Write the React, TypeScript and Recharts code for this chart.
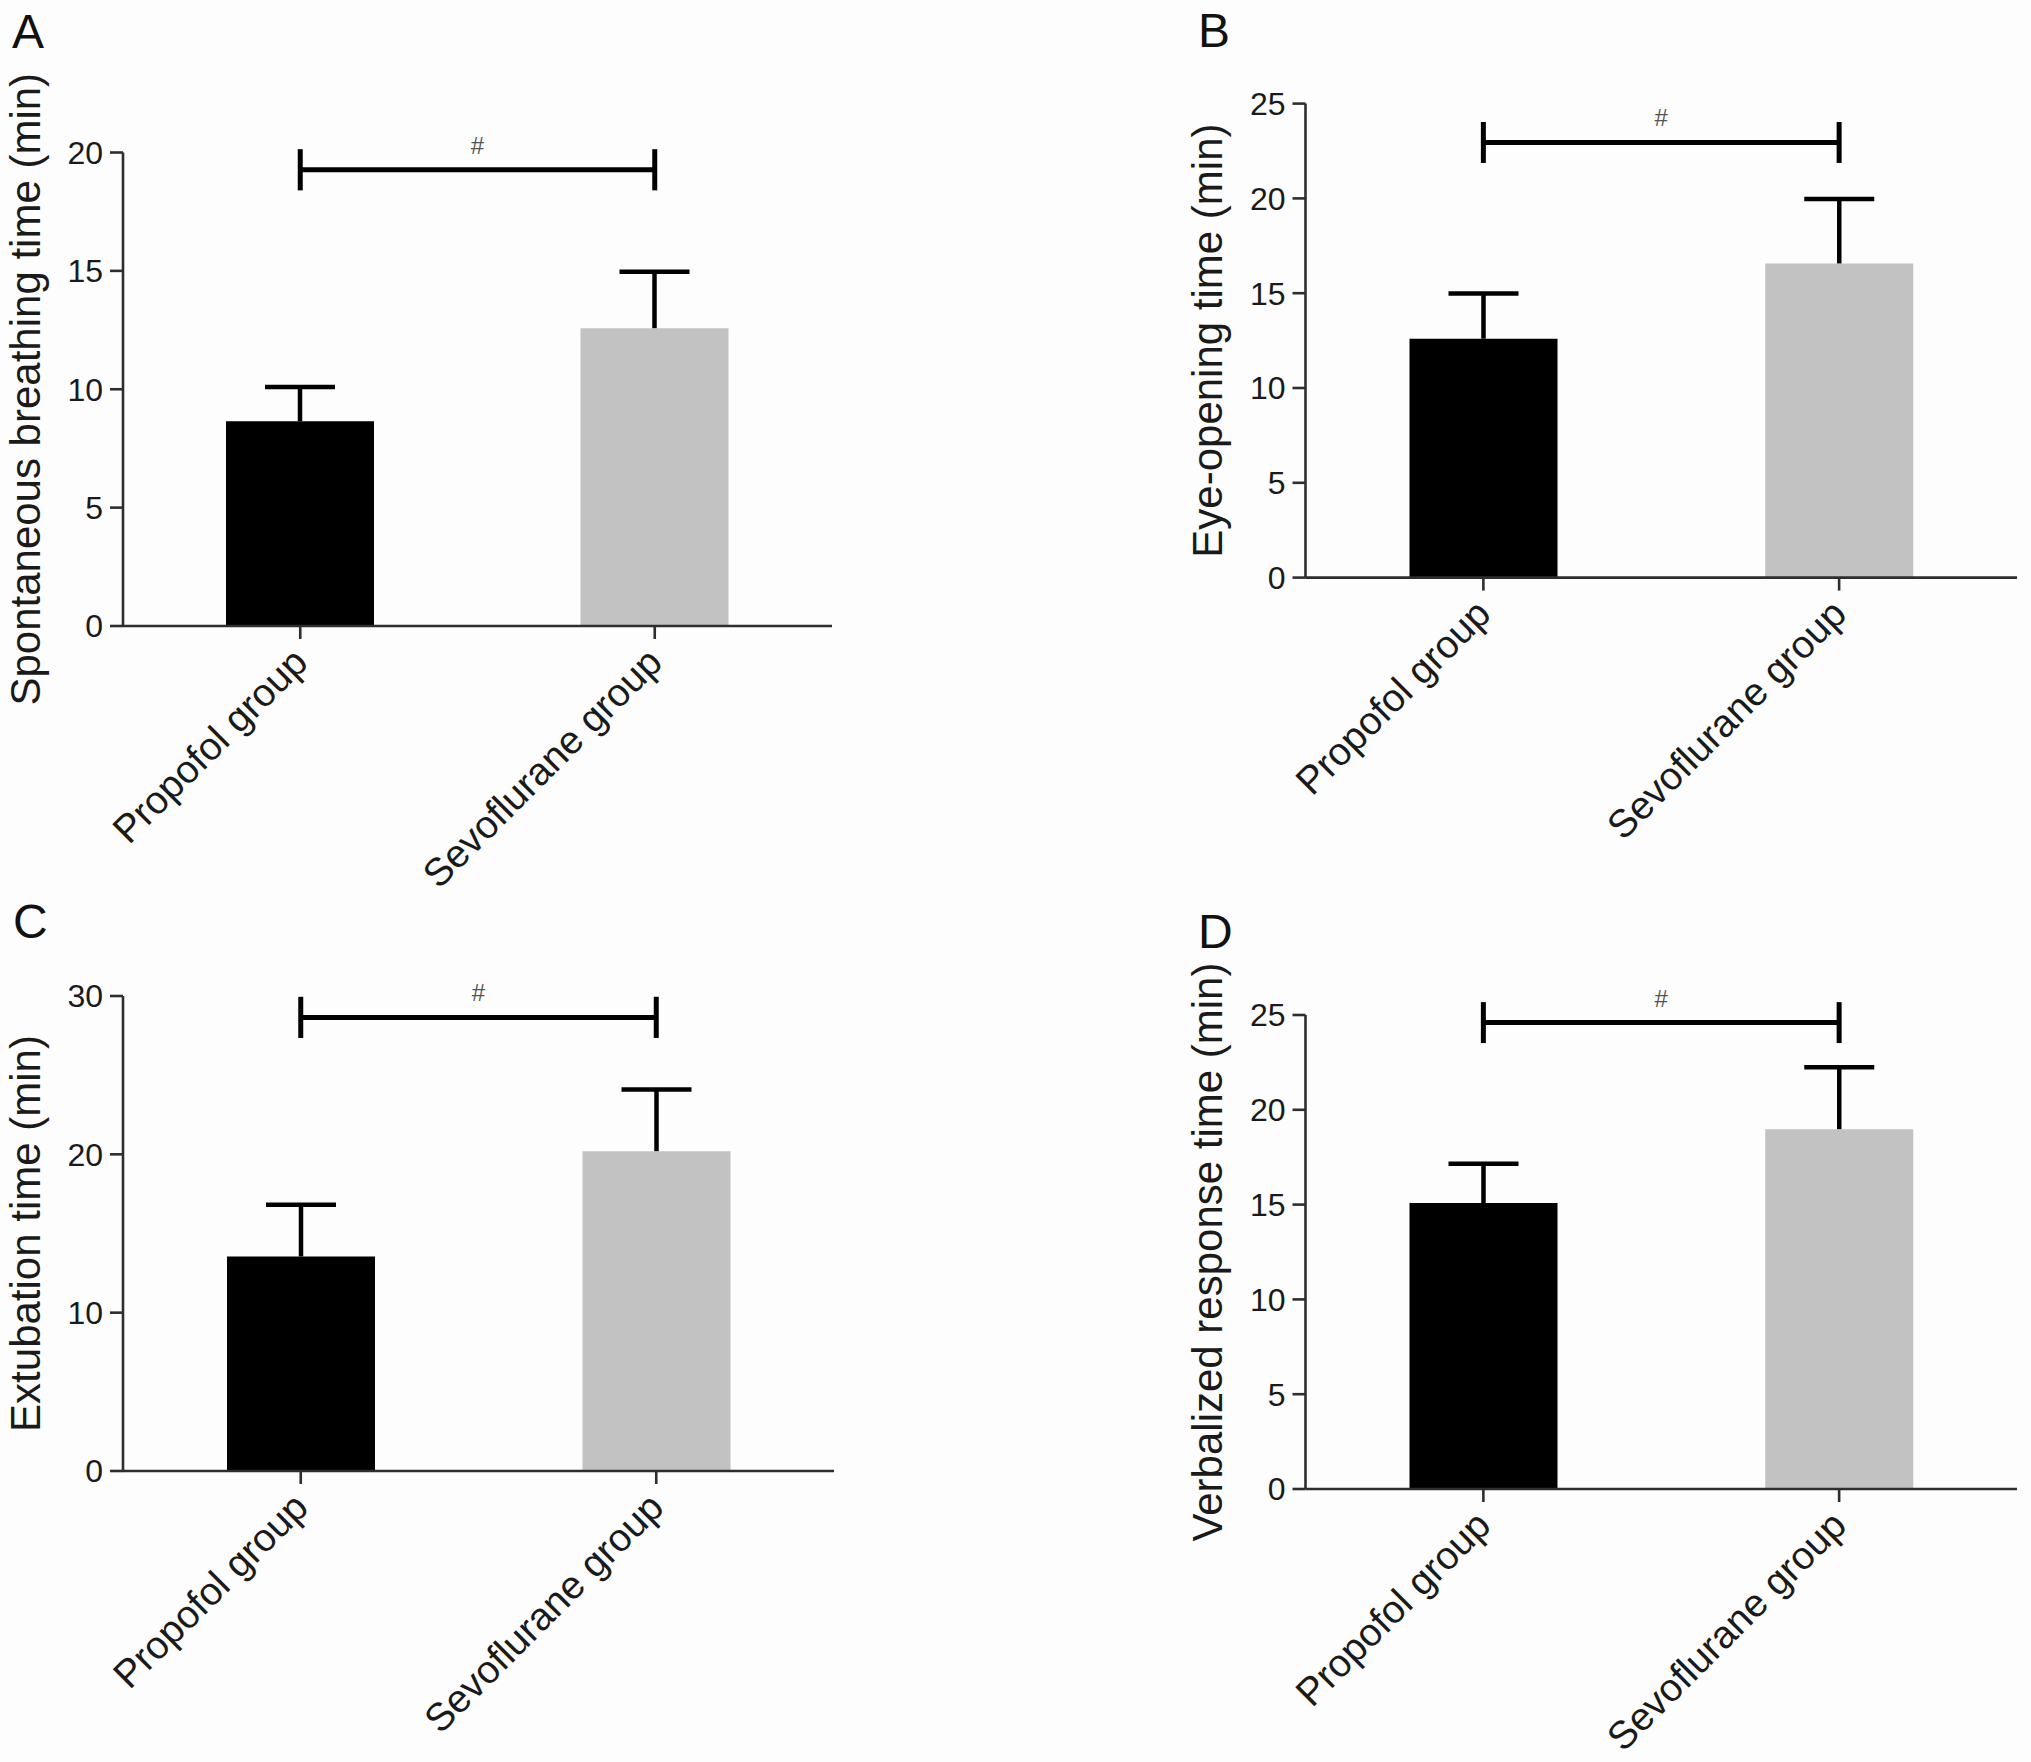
import React from 'react';
import { BarChart, Bar, XAxis, YAxis, Cell, ReferenceLine } from 'recharts';

const FONT = "'Liberation Sans', Arial, Helvetica, sans-serif";

// Categories
const groups = ['Propofol group', 'Sevoflurane group'];

// Panel A – Spontaneous breathing time
const breathingMean = [8.65, 12.58];
const breathingSD = [1.45, 2.38];
const breathingTicks = [0, 5, 10, 15, 20];
const breathingBracket = 19.27;
const breathingCap = 0.87;

// Panel B – Eye-opening time
const eyeMean = [12.6, 16.57];
const eyeSD = [2.38, 3.4];
const eyeTicks = [0, 5, 10, 15, 20, 25];
const eyeBracket = 22.95;
const eyeCap = 1.08;

// Panel C – Extubation time
const extubationMean = [13.55, 20.2];
const extubationSD = [3.27, 3.9];
const extubationTicks = [0, 10, 20, 30];
const extubationBracket = 28.65;
const extubationCap = 1.3;

// Panel D – Verbalized response time
const verbalMean = [15.08, 18.98];
const verbalSD = [2.07, 3.27];
const verbalTicks = [0, 5, 10, 15, 20, 25];
const verbalBracket = 24.6;
const verbalCap = 1.08;

const BAR_COLORS = ['#000000', '#c2c2c2'];
const AXIS_COLOR = '#2e2e2e';
const TEXT_COLOR = '#1a1a1a';

const ErrShape = (props: any) => {
  const { x, y, width, height } = props;
  if (x == null || y == null) return null;
  const cx = x + width / 2;
  return (
    <g>
      <line x1={cx} x2={cx} y1={y + height} y2={y} stroke="#000" strokeWidth={4.5} />
      <line x1={cx - 35} x2={cx + 35} y1={y} y2={y} stroke="#000" strokeWidth={4.5} />
    </g>
  );
};

type PanelProps = {
  means: number[];
  sds: number[];
  ticks: number[];
  yLabel: string;
  bracket: number;
  cap: number;
  left: number;
  top: number;
  W: number;
  H: number;
  plotLeft: number;
  plotTop: number;
  plotRight: number;
  plotBottom: number;
};

const Panel = (p: PanelProps) => {
  const data = groups.map((g, i) => ({ group: g, mean: p.means[i], sd: p.sds[i] }));
  const yW = p.plotLeft - p.left;
  const mTop = p.plotTop - p.top;
  const mRight = p.left + p.W - p.plotRight;
  const xH = p.top + p.H - p.plotBottom;
  const yMax = p.ticks[p.ticks.length - 1];
  return (
    <div style={{ position: 'absolute', left: p.left, top: p.top, width: p.W, height: p.H }}>
      <BarChart
        width={p.W}
        height={p.H}
        data={data}
        margin={{ top: mTop, right: mRight, bottom: 0, left: 0 }}
        barCategoryGap={0}
      >
        <XAxis
          dataKey="group"
          height={xH}
          interval={0}
          tickSize={13}
          tickMargin={14}
          axisLine={{ stroke: AXIS_COLOR, strokeWidth: 2.6 }}
          tickLine={{ stroke: AXIS_COLOR, strokeWidth: 2.6 }}
          tick={{ angle: -45, textAnchor: 'end', dx: -10, dy: -8, fontSize: 39, fill: TEXT_COLOR, fontFamily: FONT } as any}
        />
        <YAxis
          width={yW}
          domain={[0, yMax]}
          ticks={p.ticks}
          interval={0}
          tickSize={13}
          tickMargin={7}
          axisLine={{ stroke: AXIS_COLOR, strokeWidth: 2.6 }}
          tickLine={{ stroke: AXIS_COLOR, strokeWidth: 2.6 }}
          tick={{ fontSize: 32, fill: TEXT_COLOR, fontFamily: FONT }}
          label={{
            value: p.yLabel,
            angle: -90,
            position: 'insideLeft',
            offset: yW - 98,
            textAnchor: 'middle',
            fontSize: 42,
            fill: TEXT_COLOR,
            fontFamily: FONT,
            style: { textAnchor: 'middle', fontSize: 42, fill: TEXT_COLOR, fontFamily: FONT },
          } as any}
        />
        <Bar dataKey="mean" stackId="s" barSize={148} isAnimationActive={false}>
          {data.map((d, i) => (
            <Cell key={d.group} fill={BAR_COLORS[i]} />
          ))}
        </Bar>
        <Bar dataKey="sd" stackId="s" barSize={148} isAnimationActive={false} fill="none" shape={ErrShape} />
        <ReferenceLine
          segment={[
            { x: groups[0], y: p.bracket },
            { x: groups[1], y: p.bracket },
          ]}
          ifOverflow="visible"
          stroke="#000"
          strokeWidth={5}
          label={{ value: '#', position: 'top', offset: 16, fontSize: 24, fill: '#555', fontFamily: FONT } as any}
        />
        <ReferenceLine
          segment={[
            { x: groups[0], y: p.bracket - p.cap },
            { x: groups[0], y: p.bracket + p.cap },
          ]}
          ifOverflow="visible"
          stroke="#000"
          strokeWidth={5}
        />
        <ReferenceLine
          segment={[
            { x: groups[1], y: p.bracket - p.cap },
            { x: groups[1], y: p.bracket + p.cap },
          ]}
          ifOverflow="visible"
          stroke="#000"
          strokeWidth={5}
        />
      </BarChart>
    </div>
  );
};

export default function App() {
  return (
    <div style={{ position: 'absolute', left: 0, top: 0, width: 2031, height: 1762, background: '#fdfdfd', overflow: 'hidden' }}>
      <Panel
        means={breathingMean}
        sds={breathingSD}
        ticks={breathingTicks}
        yLabel="Spontaneous breathing time (min)"
        bracket={breathingBracket}
        cap={breathingCap}
        left={0}
        top={0}
        W={1015}
        H={930}
        plotLeft={123}
        plotTop={152.5}
        plotRight={832}
        plotBottom={626}
      />
      <Panel
        means={eyeMean}
        sds={eyeSD}
        ticks={eyeTicks}
        yLabel="Eye-opening time (min)"
        bracket={eyeBracket}
        cap={eyeCap}
        left={1015}
        top={0}
        W={1016}
        H={930}
        plotLeft={1305.5}
        plotTop={103.6}
        plotRight={2017}
        plotBottom={577.6}
      />
      <Panel
        means={extubationMean}
        sds={extubationSD}
        ticks={extubationTicks}
        yLabel="Extubation time (min)"
        bracket={extubationBracket}
        cap={extubationCap}
        left={0}
        top={880}
        W={1015}
        H={882}
        plotLeft={123}
        plotTop={996}
        plotRight={834}
        plotBottom={1471}
      />
      <Panel
        means={verbalMean}
        sds={verbalSD}
        ticks={verbalTicks}
        yLabel="Verbalized response time (min)"
        bracket={verbalBracket}
        cap={verbalCap}
        left={1015}
        top={880}
        W={1016}
        H={882}
        plotLeft={1305.5}
        plotTop={1015}
        plotRight={2017}
        plotBottom={1489}
      />
      <svg width={2031} height={1762} style={{ position: 'absolute', left: 0, top: 0, pointerEvents: 'none' }}>
        <g fontFamily={FONT} fontSize={48} fill="#111">
          <text x={12} y={48}>A</text>
          <text x={1198} y={47}>B</text>
          <text x={13} y={938}>C</text>
          <text x={1198} y={948}>D</text>
        </g>
      </svg>
    </div>
  );
}
